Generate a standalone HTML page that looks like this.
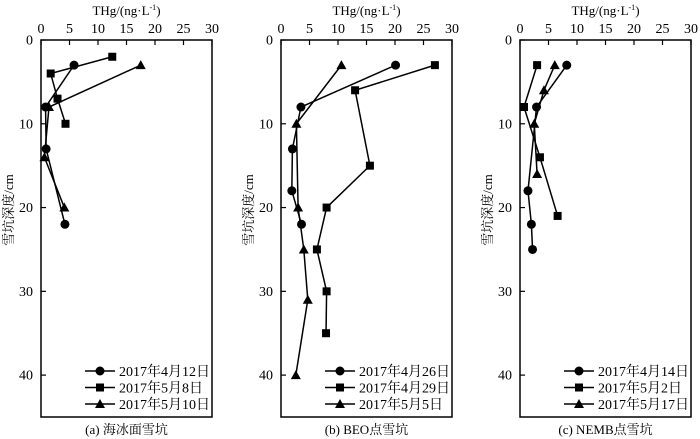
<!DOCTYPE html>
<html><head><meta charset="utf-8"><style>
html,body{margin:0;padding:0;background:#fff;}
svg{display:block;font-family:"Liberation Serif","Noto Serif CJK SC",serif;}
</style></head><body>
<svg id="chart" width="700" height="439" viewBox="0 0 700 439"></svg>
<script>
const panelLefts = [41, 281, 520];
const panelCaptions = ["(a) 海冰面雪坑", "(b) BEO点雪坑", "(c) NEMB点雪坑"];
const xTicks = [0, 5, 10, 15, 20, 25, 30];
const yTicks = [0, 10, 20, 30, 40];
const legendA = ["2017年4月12日", "2017年5月8日", "2017年5月10日"];
const legendB = ["2017年4月26日", "2017年4月29日", "2017年5月5日"];
const legendC = ["2017年4月14日", "2017年5月2日", "2017年5月17日"];
// panel a: depths / values
const aCircleDepth = [3, 8, 13, 22];
const aCircleVal = [5.8, 0.8, 0.9, 4.2];
const aSquareDepth = [2, 4, 7, 10];
const aSquareVal = [12.5, 1.7, 2.9, 4.3];
const aTriDepth = [3, 8, 14, 20];
const aTriVal = [17.5, 1.4, 0.6, 4.1];
// panel b
const bCircleDepth = [3, 8, 13, 18, 22];
const bCircleVal = [20.1, 3.5, 2.0, 1.9, 3.6];
const bSquareDepth = [3, 6, 15, 20, 25, 30, 35];
const bSquareVal = [27, 13, 15.6, 8, 6.3, 8, 7.9];
const bTriDepth = [3, 10, 20, 25, 31, 40];
const bTriVal = [10.6, 2.7, 3.0, 4.0, 4.7, 2.6];
// panel c
const cCircleDepth = [3, 8, 18, 22, 25];
const cCircleVal = [8.2, 2.9, 1.4, 2.0, 2.2];
const cSquareDepth = [3, 8, 14, 21];
const cSquareVal = [3.0, 0.7, 3.5, 6.6];
const cTriDepth = [3, 6, 10, 16];
const cTriVal = [6.1, 4.2, 2.5, 3.0];

const NS = "http://www.w3.org/2000/svg";
const svg = document.getElementById("chart");
const TOP = 40, PW = 171, PH = 377, YMAX = 45, XMAX = 30;
function mk(tag, attrs, parent) {
  const e = document.createElementNS(NS, tag);
  for (const k in attrs) e.setAttribute(k, attrs[k]);
  (parent || svg).appendChild(e);
  return e;
}
function drawMarker(g, type, x, y) {
  let m;
  if (type === 0) m = mk("circle", {cx: x, cy: y, r: 4.5, fill: "#000"}, g);
  else if (type === 1) m = mk("rect", {x: x - 4, y: y - 4, width: 8, height: 8, fill: "#000"}, g);
  else m = mk("polygon", {points: `${x},${y-5} ${x+5},${y+4} ${x-5},${y+4}`, fill: "#000"}, g);
  return m;
}
const panels = [
  {series: [[aCircleDepth, aCircleVal], [aSquareDepth, aSquareVal], [aTriDepth, aTriVal]], legend: legendA},
  {series: [[bCircleDepth, bCircleVal], [bSquareDepth, bSquareVal], [bTriDepth, bTriVal]], legend: legendB},
  {series: [[cCircleDepth, cCircleVal], [cSquareDepth, cSquareVal], [cTriDepth, cTriVal]], legend: legendC}
];
const names = ["circle", "square", "triangle"];
panels.forEach((p, pi) => {
  const L = panelLefts[pi];
  const xs = v => L + v / XMAX * PW;
  const ys = d => TOP + d / YMAX * PH;
  const g = mk("g", {});
  
  
  const frame = mk("rect", {x: L, y: TOP, width: PW, height: PH, fill: "none", stroke: "#000", "stroke-width": 1.5}, g);
  
  
  xTicks.forEach(t => {
    const x = xs(t);
    mk("line", {x1: x, y1: TOP, x2: x, y2: TOP + 5, stroke: "#000", "stroke-width": 1.2}, g);
    const tx = mk("text", {x: x, y: 33, "font-size": 14, "text-anchor": "middle"}, g);
    tx.textContent = t;
    
    
  });
  yTicks.forEach(t => {
    const y = ys(t);
    mk("line", {x1: L, y1: y, x2: L + 5, y2: y, stroke: "#000", "stroke-width": 1.2}, g);
    const tx = mk("text", {x: L - 8, y: y + 4.5, "font-size": 14, "text-anchor": "end"}, g);
    tx.textContent = t;
    
    
  });
  const xt = mk("text", {x: L + PW / 2, y: 15, "font-size": 13, "text-anchor": "middle"}, g);
  xt.innerHTML = 'THg/(ng·L<tspan dy="-5" font-size="8">-1</tspan><tspan dy="5">)</tspan>';
  
  
  const yt = mk("text", {x: 0, y: 0, "font-size": 13, "text-anchor": "middle", transform: `translate(${L - 28},210) rotate(-90)`}, g);
  yt.textContent = "雪坑深度/cm";
  
  
  const cap = mk("text", {x: L + PW / 2, y: 434, "font-size": 13, "text-anchor": "middle"}, g);
  cap.textContent = panelCaptions[pi];
  
  
  p.series.forEach((s, si) => {
    const [dep, val] = s;
    const sg = mk("g", {}, g);
    
    
    const pts = dep.map((d, i) => xs(val[i]) + "," + ys(d)).join(" ");
    const ln = mk("polyline", {points: pts, fill: "none", stroke: "#000", "stroke-width": 1.5}, sg);
    
    
    dep.forEach((d, i) => {
      const m = drawMarker(sg, si, xs(val[i]), ys(d));
      
      
    });
    const ly = 371 + si * 16.5;
    const lg = mk("g", {}, g);
    
    
    mk("line", {x1: L + 44, y1: ly, x2: L + 74, y2: ly, stroke: "#000", "stroke-width": 1.5}, lg);
    drawMarker(lg, si, L + 59, ly);
    const lt = mk("text", {x: L + 78, y: ly + 5, "font-size": 14}, lg);
    lt.textContent = p.legend[si];
  });
});
</script>
</body></html>
